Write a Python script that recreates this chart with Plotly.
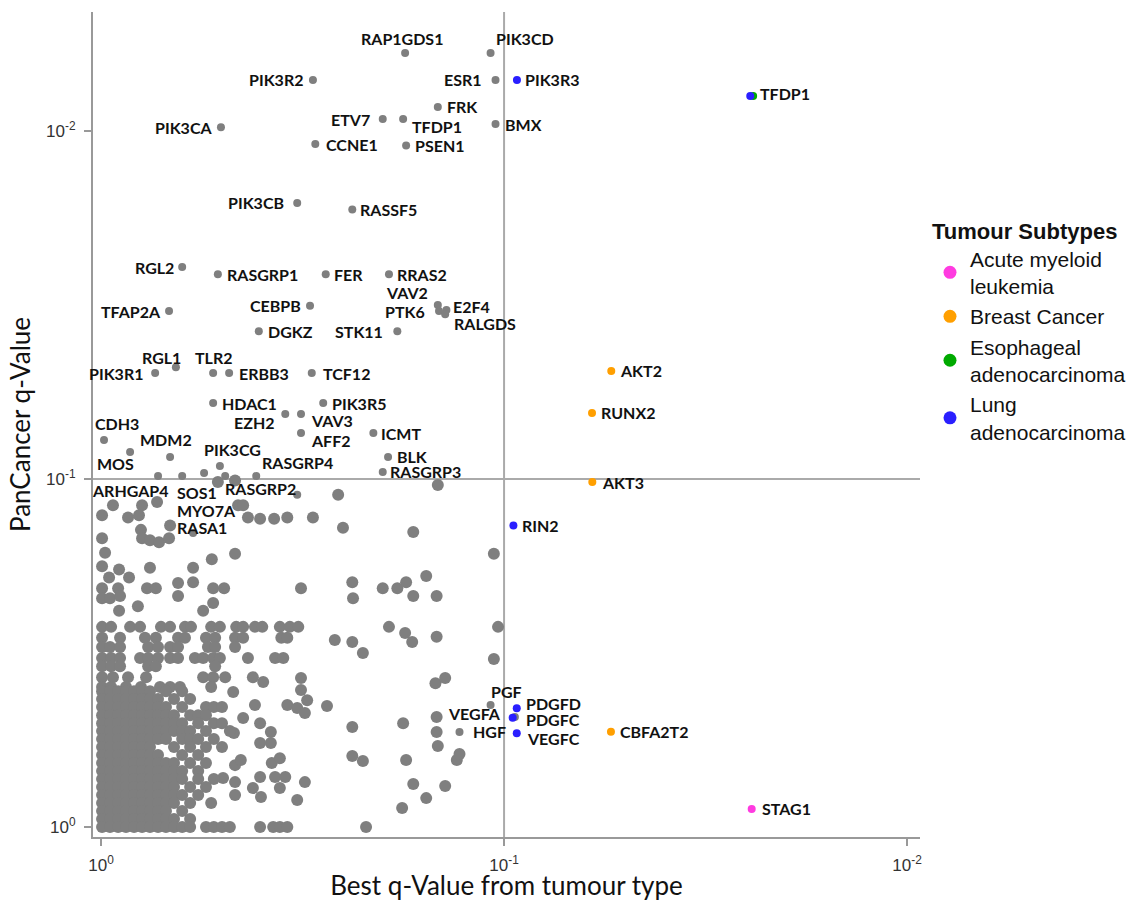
import math
import plotly.graph_objects as go

# ---------------- DATA ----------------
# Unlabelled genes, scattered (best q-value from tumour type, PanCancer q-value)
scatter_best_q = [0.146, 0.258, 0.726, 0.791, 0.934, 0.994, 0.857, 0.805, 0.674, 0.457,
                  0.444, 0.432, 0.403, 0.372, 0.345, 0.298, 0.251, 0.168, 0.994, 0.796,
                  0.791, 0.756, 0.718, 0.678, 0.977, 0.531, 0.465, 0.106, 0.994, 0.902,
                  0.756, 0.591, 0.955, 0.852, 0.994, 0.907, 0.769, 0.731, 0.644, 0.591,
                  0.644, 0.527, 0.495, 0.319, 0.238, 0.237, 0.200, 0.184, 0.175, 0.168,
                  0.156, 0.147, 0.994, 0.950, 0.897, 0.902, 0.810, 0.527, 0.558, 0.513,
                  0.465, 0.224, 0.263, 0.238, 0.176, 0.169, 0.147, 0.193, 0.1035, 0.106,
                  0.148, 0.140, 0.420, 0.396, 0.319, 0.319, 0.470, 0.345, 0.326, 0.308,
                  0.312, 0.275, 0.415, 0.444, 0.403, 0.379, 0.403, 0.379, 0.238, 0.178,
                  0.147, 0.147, 0.146, 0.238, 0.224, 0.175, 0.131, 0.129, 0.377, 0.360,
                  0.465, 0.450, 0.312, 0.168, 0.140, 0.420, 0.403, 0.360, 0.370, 0.349,
                  0.401, 0.326, 0.156, 0.179, 0.465, 0.465, 0.498, 0.533, 0.403, 0.374,
                  0.360, 0.345, 0.220, 0.468]
scatter_pan_q = [0.104, 0.111, 0.1165, 0.119, 0.119, 0.127, 0.129, 0.127, 0.136, 0.119,
                 0.119, 0.129, 0.130, 0.130, 0.129, 0.129, 0.138, 0.142, 0.148, 0.140,
                 0.148, 0.150, 0.152, 0.148, 0.163, 0.170, 0.164, 0.164, 0.178, 0.182,
                 0.180, 0.180, 0.192, 0.192, 0.206, 0.206, 0.206, 0.206, 0.199, 0.198,
                 0.217, 0.206, 0.206, 0.206, 0.198, 0.220, 0.206, 0.206, 0.198, 0.217,
                 0.190, 0.217, 0.220, 0.220, 0.217, 0.239, 0.232, 0.227, 0.239, 0.102,
                 0.101, 0.316, 0.290, 0.294, 0.277, 0.294, 0.284, 0.266, 0.266, 0.329,
                 0.386, 0.373, 0.371, 0.383, 0.373, 0.404, 0.409, 0.446, 0.455, 0.432,
                 0.470, 0.449, 0.446, 0.486, 0.503, 0.533, 0.574, 0.574, 0.516, 0.503,
                 0.483, 0.533, 0.585, 0.625, 0.646, 0.642, 0.642, 0.617, 0.655, 0.634,
                 0.664, 0.642, 0.743, 0.752, 0.762, 0.773, 0.718, 0.773, 0.718, 0.718,
                 0.820, 0.836, 0.826, 0.882, 0.743, 0.809, 0.723, 0.853, 1.0, 1.0,
                 1.0, 1.0, 1.0, 0.537]

# Unlabelled genes in the dense block, row by row (PanCancer q-value of the row, best q-values)
blob_pan_q = [0.266, 0.286, 0.304, 0.327, 0.345, 0.371, 0.396, 0.407, 0.429, 0.452,
              0.477, 0.503, 0.530, 0.559, 0.589, 0.621, 0.655, 0.690, 0.728, 0.767,
              0.809, 0.853, 0.899, 0.948, 1.0]
blob_best_q = [
    [0.994, 0.944, 0.847, 0.800, 0.710, 0.674, 0.619, 0.598, 0.533, 0.507, 0.462, 0.444, 0.415, 0.398, 0.360, 0.340, 0.324],
    [0.994, 0.897, 0.778, 0.731, 0.644, 0.619, 0.549, 0.521, 0.465, 0.444, 0.357, 0.345],
    [0.994, 0.950, 0.897, 0.764, 0.722, 0.674, 0.644, 0.543, 0.521, 0.465],
    [0.994, 0.944, 0.897, 0.800, 0.764, 0.722, 0.674, 0.644, 0.585, 0.558, 0.527, 0.507, 0.432, 0.370, 0.353],
    [0.994, 0.944, 0.897, 0.764, 0.731, 0.521],
    [0.994, 0.934, 0.857, 0.773, 0.558, 0.527, 0.492],
    [0.994, 0.944, 0.867, 0.796, 0.714, 0.674, 0.637, 0.533],
    [0.994, 0.950, 0.907, 0.867, 0.828, 0.791, 0.756, 0.690, 0.629],
    [0.994, 0.950, 0.907, 0.867, 0.828, 0.791, 0.756, 0.722, 0.659, 0.601],
    [0.994, 0.950, 0.907, 0.867, 0.828, 0.791, 0.756, 0.722, 0.690, 0.629, 0.549, 0.525, 0.501],
    [0.994, 0.950, 0.907, 0.867, 0.828, 0.791, 0.756, 0.722, 0.690, 0.659, 0.601, 0.574, 0.549],
    [0.994, 0.950, 0.907, 0.867, 0.828, 0.791, 0.756, 0.722, 0.690, 0.659, 0.629, 0.574, 0.525, 0.501],
    [0.994, 0.950, 0.907, 0.867, 0.828, 0.791, 0.756, 0.722, 0.690, 0.659, 0.629, 0.601, 0.549, 0.479],
    [0.994, 0.950, 0.907, 0.867, 0.828, 0.791, 0.756, 0.722, 0.690, 0.629, 0.601, 0.574, 0.525],
    [0.994, 0.950, 0.907, 0.867, 0.828, 0.791, 0.756, 0.659, 0.601, 0.549, 0.501],
    [0.994, 0.950, 0.907, 0.867, 0.828, 0.791, 0.756, 0.722, 0.629, 0.574],
    [0.994, 0.950, 0.907, 0.867, 0.828, 0.791, 0.756, 0.722, 0.690, 0.659, 0.601, 0.549],
    [0.994, 0.950, 0.907, 0.867, 0.828, 0.791, 0.756, 0.722, 0.690, 0.659, 0.629, 0.574],
    [0.994, 0.950, 0.907, 0.867, 0.828, 0.791, 0.756, 0.722, 0.690, 0.659, 0.629, 0.574, 0.525],
    [0.994, 0.950, 0.907, 0.867, 0.828, 0.791, 0.756, 0.722, 0.690, 0.659, 0.601, 0.549],
    [0.994, 0.950, 0.907, 0.867, 0.828, 0.791, 0.756, 0.722, 0.690, 0.659, 0.629, 0.574],
    [0.994, 0.950, 0.907, 0.867, 0.828, 0.791, 0.756, 0.722, 0.690, 0.659, 0.601],
    [0.994, 0.950, 0.907, 0.867, 0.828, 0.791, 0.756, 0.722, 0.690, 0.629],
    [0.994, 0.950, 0.907, 0.867, 0.828, 0.791, 0.756, 0.722, 0.690, 0.659, 0.601],
    [0.994, 0.950, 0.907, 0.867, 0.828, 0.791, 0.756, 0.722, 0.690, 0.659, 0.629, 0.601, 0.549, 0.525, 0.501, 0.479],
]

# Highlighted genes
gene_names = ["RAP1GDS1", "PIK3CD", "PIK3R2", "ESR1", "PIK3R3", "FRK", "ETV7", "TFDP1", "BMX", "PIK3CA",
              "CCNE1", "PSEN1", "PIK3CB", "RASSF5", "TFDP1", "TFDP1", "RGL2", "RASGRP1", "FER", "RRAS2",
              "VAV2", "PTK6", "E2F4", "RALGDS", "TFAP2A", "CEBPB", "DGKZ", "STK11", "PIK3R1", "RGL1",
              "TLR2", "ERBB3", "TCF12", "HDAC1", "PIK3R5", "EZH2", "VAV3", "AFF2", "ICMT", "CDH3",
              "MDM2", "BLK", "RASGRP3", "PIK3CG", "MOS", "ARHGAP4", "SOS1", "MYO7A", "RASGRP4", "RASGRP2",
              "RASA1", "", "AKT2", "RUNX2", "AKT3", "RIN2", "PGF", "VEGFA", "PDGFD", "PDGFC",
              "VEGFC", "HGF", "CBFA2T2", "STAG1"]
gene_best_q = [0.176, 0.108, 0.298, 0.105, 0.0929, 0.146, 0.200, 0.178, 0.105, 0.504,
               0.294, 0.175, 0.326, 0.238, 0.0245, 0.0241, 0.629, 0.513, 0.277, 0.193,
               0.146, 0.145, 0.139, 0.140, 0.678, 0.303, 0.406, 0.184, 0.734, 0.652,
               0.527, 0.481, 0.300, 0.527, 0.281, 0.349, 0.319, 0.319, 0.211, 0.983,
               0.674, 0.194, 0.200, 0.507, 0.722, 0.629, 0.555, 0.492, 0.412, 0.326,
               0.591, 0.847, 0.0542, 0.0605, 0.0604, 0.0948, 0.108, 0.094, 0.0930, 0.0952,
               0.0930, 0.129, 0.0543, 0.0243]
gene_pan_q = [0.00597, 0.00597, 0.00713, 0.00713, 0.00713, 0.00853, 0.00924, 0.00924, 0.00955, 0.00975,
              0.0109, 0.0110, 0.0161, 0.0168, 0.00793, 0.00793, 0.0246, 0.0258, 0.0258, 0.0258,
              0.0316, 0.0329, 0.0327, 0.0336, 0.0329, 0.0318, 0.0376, 0.0376, 0.0496, 0.0477,
              0.0496, 0.0496, 0.0496, 0.0605, 0.0605, 0.0650, 0.0650, 0.0738, 0.0738, 0.0773,
              0.0865, 0.0865, 0.0955, 0.0918, 0.098, 0.098, 0.0961, 0.098, 0.098, 0.111,
              0.143, 0.0836, 0.0489, 0.0646, 0.102, 0.136, 0.446, 0.483, 0.456, 0.485,
              0.538, 0.533, 0.532, 0.887]
gene_subtype = ["", "", "", "", "Lung", "", "", "", "", "",
                "", "", "", "", "Lung", "Esophageal", "", "", "", "",
                "", "", "", "", "", "", "", "", "", "",
                "", "", "", "", "", "", "", "", "", "",
                "", "", "", "", "", "", "", "", "", "",
                "", "", "Breast", "Breast", "Breast", "Lung", "", "", "Lung", "Lung",
                "Lung", "", "Breast", "AML"]

subtype_keys = ["AML", "Breast", "Esophageal", "Lung"]
subtype_labels = ["Acute myeloid<br>leukemia", "Breast Cancer", "Esophageal<br>adenocarcinoma", "Lung<br>adenocarcinoma"]

# ---------------- STYLE ----------------
GRAY = "#7f7f7f"
subtype_colors = {"AML": "#ff3be0", "Breast": "#ff9f00", "Esophageal": "#00aa00", "Lung": "#2a1fff"}

# label placement (xanchor, xshift px, yshift px), one per highlighted gene (None = no label)
label_pos = [("center", -3, 15), ("left", 3, 15), ("right", -8, 0), ("right", -12, 0), ("left", 6, 0),
             ("left", 7, 0), ("right", -11, 0), ("left", 7, -7), ("left", 7, 0), ("right", -7, 0),
             ("left", 9, 0), ("left", 7, 0), ("right", -11, 0), ("left", 6, 0), ("left", 8, 2),
             None, ("right", -6, 0), ("left", 7, 0), ("left", 6, 0), ("left", 6, 0),
             ("right", -8, 12), ("right", -12, 0), ("left", 5, 4), ("left", 7, -9), ("right", -6, 0),
             ("right", -7, 0), ("left", 7, 0), ("right", -12, 0), ("right", -10, 0), ("center", -14, 10),
             ("center", 0, 16), ("left", 8, 0), ("left", 9, 0), ("left", 7, 0), ("left", 7, 0),
             ("right", -8, -9), ("left", 8, -7), ("left", 8, -7), ("left", 6, 0), ("center", 13, 17),
             ("center", -4, 18), ("left", 7, 1), ("left", 5, 1), ("center", 13, 17), ("center", -43, 12),
             ("right", -11, -15), ("left", -29, -19), ("left", -50, -35), ("left", 4, 13), ("right", 1, 6),
             ("left", -18, 6), None, ("left", 7, 0), ("left", 7, 0), ("left", 8, 0),
             ("left", 7, 0), ("center", 16, 13), ("right", -12, 4), ("left", 7, 5), ("left", 11, -2),
             ("left", 8, -5), ("left", 12, 0), ("left", 7, 0), ("left", 8, 0)]

fig = go.Figure()

# background genes
bg_x = list(scatter_best_q)
bg_y = list(scatter_pan_q)
for pan, bests in zip(blob_pan_q, blob_best_q):
    bg_x.extend(bests)
    bg_y.extend([pan] * len(bests))
fig.add_trace(go.Scatter(x=bg_x, y=bg_y, mode="markers", showlegend=False, hoverinfo="skip",
                         marker=dict(color=GRAY, size=12, line=dict(width=0))))

# highlighted grey genes
gx = [b for b, s in zip(gene_best_q, gene_subtype) if s == ""]
gy = [p for p, s in zip(gene_pan_q, gene_subtype) if s == ""]
fig.add_trace(go.Scatter(x=gx, y=gy, mode="markers", showlegend=False,
                         marker=dict(color=GRAY, size=8, line=dict(width=0))))

# coloured genes
for key in subtype_keys:
    xs = [b for b, s in zip(gene_best_q, gene_subtype) if s == key]
    ys = [p for p, s in zip(gene_pan_q, gene_subtype) if s == key]
    fig.add_trace(go.Scatter(x=xs, y=ys, mode="markers", showlegend=False,
                             marker=dict(color=subtype_colors[key], size=8, line=dict(width=0))))

# legend entries
for key, lab in zip(subtype_keys, subtype_labels):
    fig.add_trace(go.Scatter(x=[None], y=[None], mode="markers", name=lab,
                             marker=dict(color=subtype_colors[key], size=13)))

# labels
for name, b, p, pos in zip(gene_names, gene_best_q, gene_pan_q, label_pos):
    if pos is None or name == "":
        continue
    anchor, xs, ys = pos
    fig.add_annotation(x=math.log10(b), y=math.log10(p), xref="x", yref="y", text="<b>%s</b>" % name,
                       showarrow=False, xanchor=anchor, yanchor="middle", xshift=xs, yshift=ys,
                       font=dict(family="Lato", size=16, color="#111111"))

# reference lines at q = 0.1
fig.add_shape(type="line", xref="x", yref="paper", x0=0.1, x1=0.1, y0=0, y1=1,
              line=dict(color="#aaaaaa", width=2), layer="below")
fig.add_shape(type="line", xref="paper", yref="y", x0=0, x1=1, y0=0.1, y1=0.1,
              line=dict(color="#aaaaaa", width=2), layer="below")

tick_vals = [1, 0.1, 0.01]
tick_text = ["10<sup>0</sup>", "10<sup>-1</sup>", "10<sup>-2</sup>"]

axis_common = dict(type="log", tickvals=tick_vals, ticktext=tick_text, automargin=False,
                   showgrid=False, zeroline=False, showline=True, linecolor="#999999", linewidth=2,
                   ticks="outside", ticklen=7, tickwidth=1.5, tickcolor="#999999", ticklabelstandoff=5,
                   tickfont=dict(family="Liberation Sans", size=17, color="#333333"))
fig.update_xaxes(range=[0.0199, -2.032], **axis_common,
                 title=dict(text="Best q-Value from tumour type", font=dict(family="Lato", size=26, color="#111111"),
                            standoff=9))
fig.update_yaxes(range=[0.0287, -2.342], **axis_common,
                 title=dict(text="PanCancer q-Value", font=dict(family="Lato", size=26, color="#111111"),
                            standoff=8))

fig.update_layout(
    width=1139, height=901,
    margin=dict(l=93, r=219, t=12, b=64),
    plot_bgcolor="white", paper_bgcolor="white",
    legend=dict(title=dict(text="<b>Tumour Subtypes</b>", font=dict(family="Liberation Sans", size=22, color="#111111")),
                font=dict(family="Liberation Sans", size=21, color="#111111"),
                xref="container", yref="container",
                x=0.8165, y=0.767, xanchor="left", yanchor="top", bgcolor="rgba(0,0,0,0)",
                itemsizing="trace"),
)

fig.write_html("out.html")
